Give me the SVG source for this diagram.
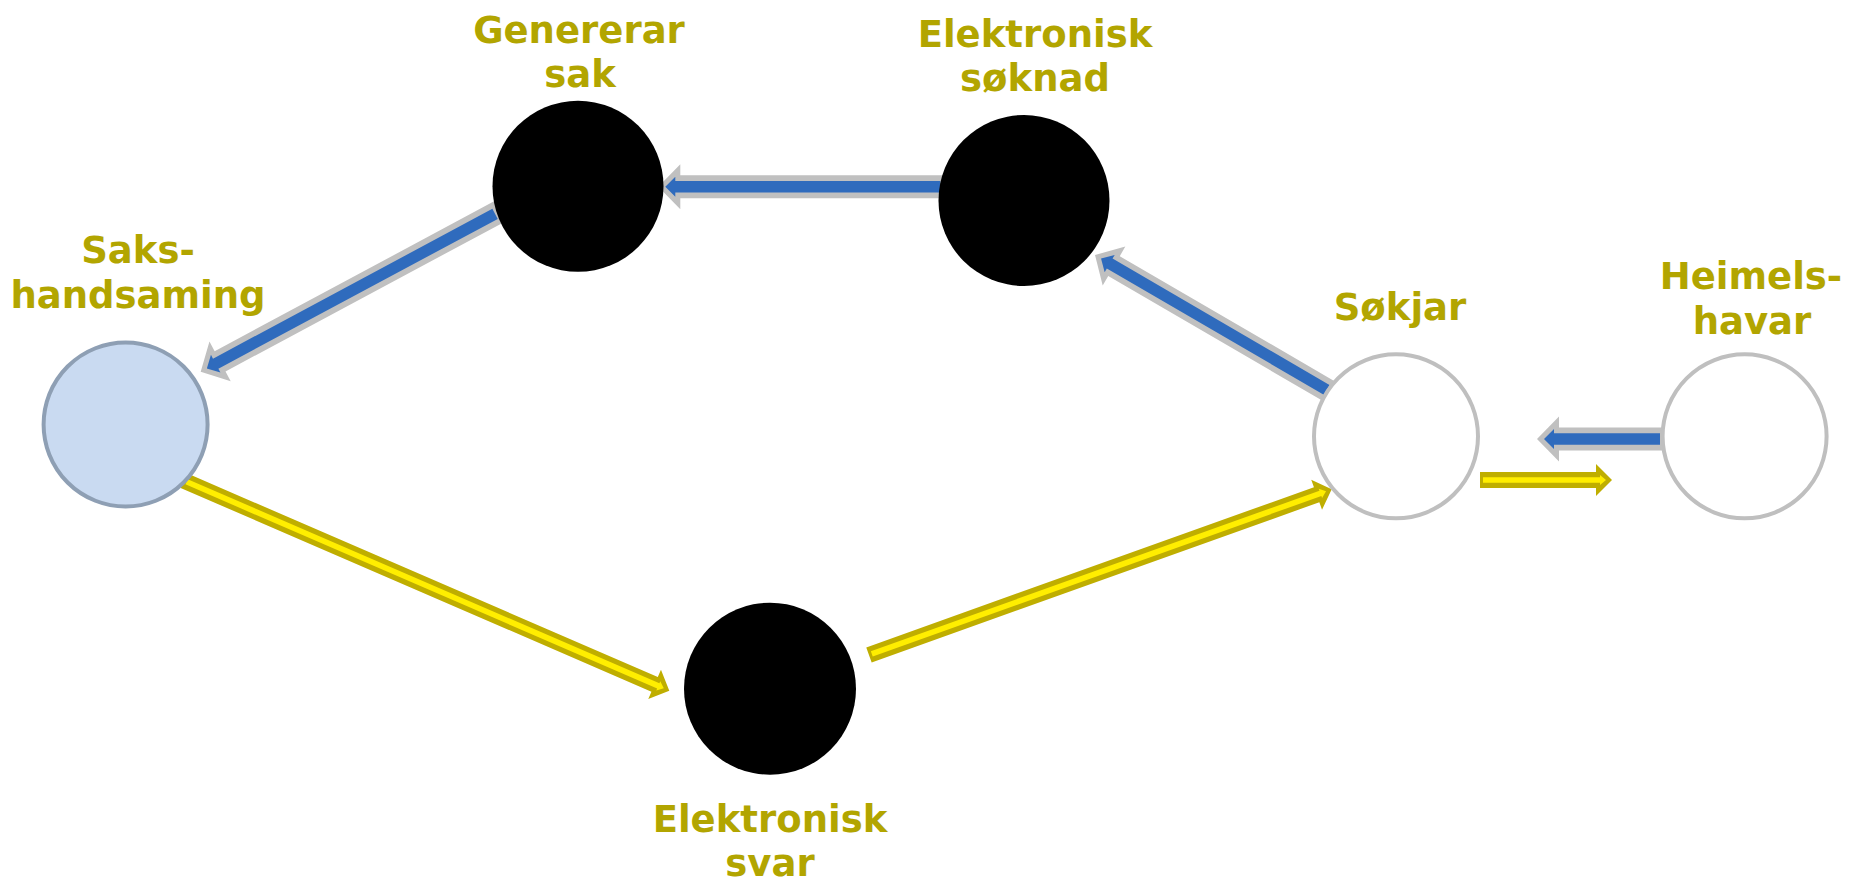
<svg xmlns="http://www.w3.org/2000/svg" width="1849" height="884" viewBox="0 0 1849 884">
<style>
.lbl{font-family:"DejaVu Sans","Liberation Sans",sans-serif;font-weight:bold;font-size:37px;fill:#b2a500;text-anchor:middle}
.dark{fill:#000}
.sel{fill:#c9daf1;stroke:#8e9fb4;stroke-width:4}
.ext{fill:#fff;stroke:#bfbfbf;stroke-width:4}
.bo{fill:#c0c0c0}
.bi{fill:#2f6bbd}
.yo{fill:#bfae00}
.yi{fill:#ffee00}
</style>
<rect width="1849" height="884" fill="#fff"/>
<g id="connectors">
  <g transform="translate(200.7,371.7) rotate(151.8)">
    <path class="bo" d="M0,0 L-22,-22.5 L-22,-11.5 L-339,-11.5 L-339,11.5 L-22,11.5 L-22,22.5 Z"/>
    <path class="bi" d="M-7,0 L-17,-10 L-17,-5.7 L-334,-5.7 L-334,5.7 L-17,5.7 L-17,10 Z"/>
  </g>
  <g transform="translate(658.3,186.7) rotate(180)">
    <path class="bo" d="M0,0 L-22,-22.5 L-22,-11.5 L-285,-11.5 L-285,11.5 L-22,11.5 L-22,22.5 Z"/>
    <path class="bi" d="M-7,0 L-17,-10 L-17,-5.7 L-282,-5.7 L-282,5.7 L-17,5.7 L-17,10 Z"/>
  </g>
  <g transform="translate(1095,255) rotate(210.2)">
    <path class="bo" d="M0,0 L-22,-22.5 L-22,-11.5 L-272,-11.5 L-272,11.5 L-22,11.5 L-22,22.5 Z"/>
    <path class="bi" d="M-7,0 L-17,-10 L-17,-5.7 L-268,-5.7 L-268,5.7 L-17,5.7 L-17,10 Z"/>
  </g>
  <g transform="translate(1537,439) rotate(180)">
    <path class="bo" d="M0,0 L-22,-22.5 L-22,-11.5 L-125,-11.5 L-125,11.5 L-22,11.5 L-22,22.5 Z"/>
    <path class="bi" d="M-7,0 L-17,-10 L-17,-5.7 L-123,-5.7 L-123,5.7 L-17,5.7 L-17,10 Z"/>
  </g>
  <g transform="translate(669.3,690.7) rotate(23.4)">
    <path class="yo" d="M0,0 L-16,-16 L-16,-8 L-529,-8 L-529,8 L-16,8 L-16,16 Z"/>
    <path class="yi" d="M-6,0 L-12,-5 L-12,-2.8 L-526,-2.8 L-526,2.8 L-12,2.8 L-12,5 Z"/>
  </g>
  <g transform="translate(1331.7,489.3) rotate(-19.7)">
    <path class="yo" d="M0,0 L-16,-16 L-16,-8 L-491.5,-8 L-491.5,8 L-16,8 L-16,16 Z"/>
    <path class="yi" d="M-6,0 L-12,-5 L-12,-2.8 L-488.5,-2.8 L-488.5,2.8 L-12,2.8 L-12,5 Z"/>
  </g>
  <g transform="translate(1612,480)">
    <path class="yo" d="M0,0 L-16,-16 L-16,-8 L-132,-8 L-132,8 L-16,8 L-16,16 Z"/>
    <path class="yi" d="M-6,0 L-12,-5 L-12,-2.8 L-129,-2.8 L-129,2.8 L-12,2.8 L-12,5 Z"/>
  </g>
</g>
<g id="node-genererar">
  <circle class="dark" cx="578" cy="186.3" r="85.5"/>
  <text class="lbl" x="579" y="43">Genererar</text>
  <text class="lbl" x="580" y="87">sak</text>
</g>
<g id="node-soknad">
  <circle class="dark" cx="1024" cy="200.5" r="85.5"/>
  <text class="lbl" x="1035" y="47">Elektronisk</text>
  <text class="lbl" x="1035" y="91">søknad</text>
</g>
<g id="node-sakshandsaming">
  <circle class="sel" cx="125.6" cy="424.5" r="82"/>
  <text class="lbl" x="138" y="263">Saks-</text>
  <text class="lbl" x="138" y="308">handsaming</text>
</g>
<g id="node-svar">
  <circle class="dark" cx="770" cy="688.7" r="86"/>
  <text class="lbl" x="770" y="832">Elektronisk</text>
  <text class="lbl" x="770" y="876">svar</text>
</g>
<g id="node-sokjar">
  <circle class="ext" cx="1396" cy="436.3" r="82"/>
  <text class="lbl" x="1400" y="320">Søkjar</text>
</g>
<g id="node-heimelshavar">
  <circle class="ext" cx="1744.6" cy="436.3" r="82"/>
  <text class="lbl" x="1751" y="289">Heimels-</text>
  <text class="lbl" x="1752" y="334">havar</text>
</g>
</svg>
